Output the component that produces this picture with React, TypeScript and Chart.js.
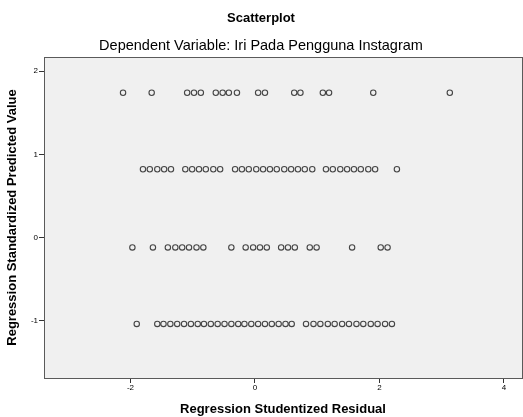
import React, { useEffect, useRef } from "react";
import { Chart, registerables } from "chart.js";

Chart.register(...registerables);

const chartTitle = "Scatterplot";
const chartSubtitle = "Dependent Variable: Iri Pada Pengguna Instagram";
const xAxisTitle = "Regression Studentized Residual";
const yAxisTitle = "Regression Standardized Predicted Value";

const xTicks = [-2, 0, 2, 4];
const yTicks = [-1, 0, 1, 2];

// Standardized predicted value levels (one per row of points)
const predictedLevels = [1.74, 0.82, -0.12, -1.04];

// Studentized residuals for each predicted level
const residualsLevel1 = [
  -2.12, -1.66, -1.09, -0.98, -0.87, -0.63, -0.52, -0.42, -0.29, 0.05, 0.16,
  0.63, 0.73, 1.09, 1.19, 1.9, 3.13,
];
const residualsLevel2 = [
  -1.8, -1.69, -1.57, -1.46, -1.35, -1.12, -1.01, -0.9, -0.79, -0.67, -0.56,
  -0.32, -0.21, -0.1, 0.02, 0.13, 0.24, 0.35, 0.47, 0.58, 0.69, 0.8, 0.92,
  1.14, 1.25, 1.37, 1.48, 1.59, 1.7, 1.82, 1.93, 2.28,
];
const residualsLevel3 = [
  -1.97, -1.64, -1.4, -1.28, -1.17, -1.06, -0.94, -0.83, -0.38, -0.15, -0.03,
  0.08, 0.19, 0.42, 0.53, 0.64, 0.88, 0.99, 1.56, 2.02, 2.13,
];
const residualsLevel4 = [
  -1.9, -1.57, -1.47, -1.36, -1.25, -1.14, -1.03, -0.92, -0.82, -0.71, -0.6,
  -0.49, -0.38, -0.27, -0.17, -0.06, 0.05, 0.16, 0.27, 0.38, 0.49, 0.59,
  0.82, 0.94, 1.05, 1.17, 1.28, 1.4, 1.51, 1.63, 1.74, 1.86, 1.97, 2.09, 2.2,
];

const residualRows = [residualsLevel1, residualsLevel2, residualsLevel3, residualsLevel4];

const FONT = "'Liberation Sans', Arial, sans-serif";

const plotFrame = {
  id: "plotFrame",
  beforeDatasetsDraw(chart: any) {
    const { ctx, chartArea } = chart;
    ctx.save();
    ctx.fillStyle = "#f0f0f0";
    ctx.fillRect(chartArea.left, chartArea.top, chartArea.right - chartArea.left, chartArea.bottom - chartArea.top);
    ctx.restore();
  },
  afterDraw(chart: any) {
    const { ctx, chartArea } = chart;
    ctx.save();
    ctx.strokeStyle = "#5a5a5a";
    ctx.lineWidth = 1;
    ctx.strokeRect(
      Math.round(chartArea.left) + 0.5,
      Math.round(chartArea.top) + 0.5,
      Math.round(chartArea.right - chartArea.left),
      Math.round(chartArea.bottom - chartArea.top)
    );
    ctx.restore();
  },
};

export default function App() {
  const canvasRef = useRef<HTMLCanvasElement | null>(null);

  useEffect(() => {
    if (!canvasRef.current) return;
    const points: { x: number; y: number }[] = [];
    residualRows.forEach((row, i) => {
      row.forEach((x) => points.push({ x, y: predictedLevels[i] }));
    });

    const chart = new Chart(canvasRef.current, {
      type: "scatter",
      data: {
        datasets: [
          {
            data: points,
            pointStyle: "circle",
            pointRadius: 2.7,
            pointBorderWidth: 1.1,
            pointBackgroundColor: "rgba(0,0,0,0)",
            pointBorderColor: "rgba(20,20,20,0.78)",
          },
        ],
      },
      plugins: [plotFrame],
      options: {
        animation: false,
        responsive: false,
        devicePixelRatio: 1,
        layout: { autoPadding: false, padding: { top: 0, right: 1, bottom: 0, left: 0 } },
        plugins: {
          legend: { display: false },
          tooltip: { enabled: false },
          title: {
            display: true,
            text: chartTitle,
            color: "#000",
            font: { family: FONT, size: 13, weight: "bold" },
            padding: { top: 11, bottom: 5 },
          },
          subtitle: {
            display: true,
            text: chartSubtitle,
            color: "#000",
            font: { family: FONT, size: 14.5 },
            padding: { top: 5.7, bottom: 2.3 },
          },
        },
        scales: {
          x: {
            type: "linear",
            min: -3.39,
            max: 4.29,
            afterBuildTicks: (scale: any) => {
              scale.ticks = xTicks.map((v) => ({ value: v }));
            },
            afterFit: (scale: any) => {
              scale.height = 39;
              scale.paddingLeft = 0;
              scale.paddingRight = 0;
            },
            border: { display: false },
            grid: {
              drawOnChartArea: false,
              drawTicks: true,
              tickLength: 5,
              color: "#333",
            },
            ticks: {
              color: "#000",
              padding: 0,
              maxRotation: 0,
              font: { family: FONT, size: 8 },
            },
            title: {
              display: true,
              text: xAxisTitle,
              color: "#000",
              font: { family: FONT, size: 13, weight: "bold" },
              padding: { top: 0, bottom: 0 },
            },
          },
          y: {
            type: "linear",
            min: -1.69,
            max: 2.17,
            afterBuildTicks: (scale: any) => {
              scale.ticks = yTicks.map((v) => ({ value: v }));
            },
            afterFit: (scale: any) => {
              scale.width = 44;
              scale.paddingTop = 0;
              scale.paddingBottom = 0;
            },
            border: { display: false },
            grid: {
              drawOnChartArea: false,
              drawTicks: true,
              tickLength: 5,
              color: "#333",
            },
            ticks: {
              color: "#000",
              padding: 1,
              font: { family: FONT, size: 8 },
            },
            title: {
              display: true,
              text: yAxisTitle,
              color: "#000",
              font: { family: FONT, size: 13, weight: "bold" },
              padding: { top: 5, bottom: 0 },
            },
          },
        },
      },
    });
    return () => chart.destroy();
  }, []);

  return (
    <div style={{ position: "fixed", left: 0, top: 0, width: 523, height: 417, background: "#fff" }}>
      <canvas ref={canvasRef} width={523} height={417} style={{ width: 523, height: 417 }} />
    </div>
  );
}
